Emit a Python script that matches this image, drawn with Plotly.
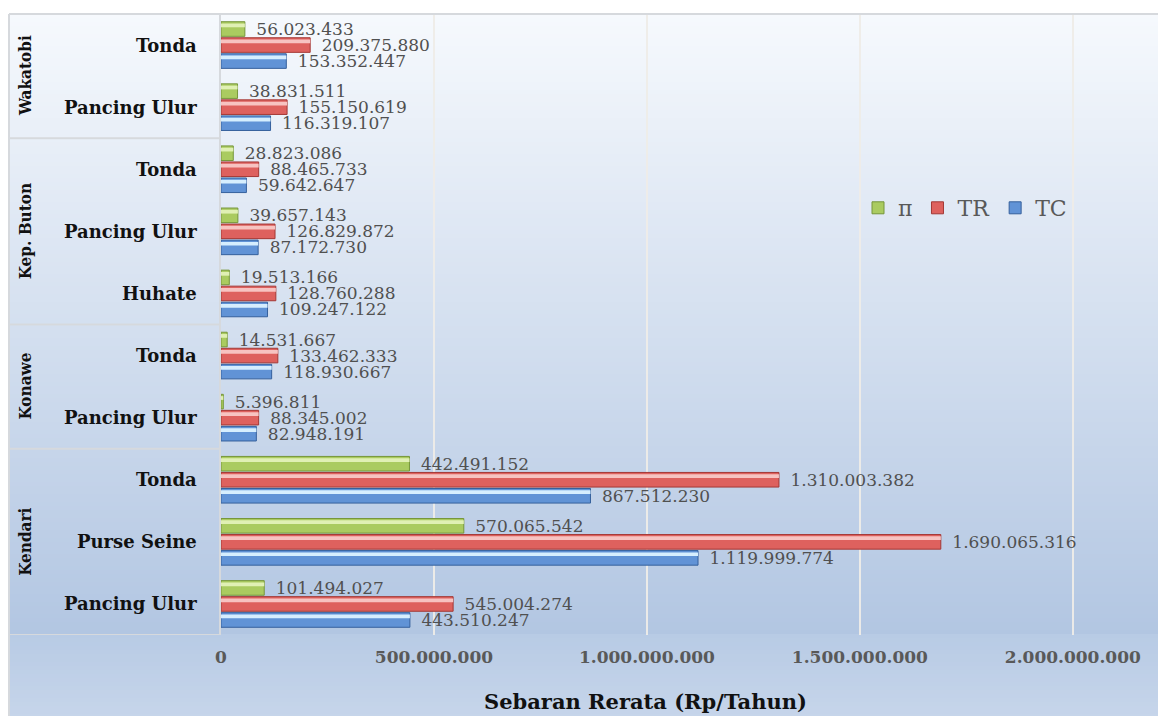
import plotly.graph_objects as go

# Average annual spread per region and fishing gear (Rp/Tahun), bottom-to-top order
regions = ["Kendari", "Kendari", "Kendari", "Konawe", "Konawe",
           "Kep. Buton", "Kep. Buton", "Kep. Buton", "Wakatobi", "Wakatobi"]
gears = ["Pancing Ulur", "Purse Seine", "Tonda", "Pancing Ulur", "Tonda",
         "Huhate", "Pancing Ulur", "Tonda", "Pancing Ulur", "Tonda"]
tc = [443510247, 1119999774, 867512230, 82948191, 118930667,
      109247122, 87172730, 59642647, 116319107, 153352447]
tr = [545004274, 1690065316, 1310003382, 88345002, 133462333,
      128760288, 126829872, 88465733, 155150619, 209375880]
pi = [101494027, 570065542, 442491152, 5396811, 14531667,
      19513166, 39657143, 28823086, 38831511, 56023433]
tick_vals = [0, 500000000, 1000000000, 1500000000, 2000000000]

keys = [f"{r} / {g}" for r, g in zip(regions, gears)]

W, H = 1158, 716
L, R, T, B = 221, 0, 14, 81
PW, PH = W - L - R, H - T - B


def px_x(x):
    return (x - L) / PW


def px_y(y):
    return (H - B - y) / PH


def fmt(v):
    return f"{v:,}".replace(",", ".")


SERIF = "DejaVu Serif"
BAR_W = 0.235
PITCH = 0.258

series = [
    # name, values, fill, outline, highlight, centre offset
    ("TC", tc, "#6193d6", "#35609c", "#d6eefe", -PITCH),
    ("TR", tr, "#de615e", "#a33835", "#f7c3c1", 0.0),
    ("π", pi, "#aacb60", "#76963a", "#e0f0b4", PITCH),
]

fig = go.Figure()
for name, vals, fill, edge, _, c in series:
    fig.add_trace(go.Bar(
        name=name, orientation="h", x=vals, y=keys,
        width=BAR_W, offset=c - BAR_W / 2,
        marker=dict(color=fill, line=dict(color=edge, width=1)),
        text=["\u2002" + fmt(v) for v in vals], textposition="outside",
        constraintext="none", cliponaxis=False,
        textfont=dict(family=SERIF, size=17, color="#505050"),
    ))
# glossy stripe along the upper part of each bar
for name, vals, _, _, hl, c in series:
    fig.add_trace(go.Bar(
        orientation="h", x=vals, y=keys, showlegend=False, hoverinfo="skip",
        width=0.06, offset=c + BAR_W * 0.12,
        marker=dict(color=hl, line=dict(width=0)),
    ))

shapes = []
# vertical gradient of the chart area
stops = [(T, (246, 249, 253)), (H - B, (178, 198, 226)),
         (H - B + 1, (184, 203, 229)), (H, (198, 213, 234))]


def col_at(y):
    for (y0, c0), (y1, c1) in zip(stops[:-1], stops[1:]):
        if y0 <= y <= y1:
            t = 0 if y1 == y0 else (y - y0) / (y1 - y0)
            return "rgb(%d,%d,%d)" % tuple(round(a + (b - a) * t) for a, b in zip(c0, c1))
    return "rgb(%d,%d,%d)" % stops[-1][1]


step = 4
y = T
while y < H:
    y2 = min(y + step, H)
    shapes.append(dict(type="rect", xref="paper", yref="paper", layer="below",
                       x0=px_x(9), x1=1, y0=px_y(y2), y1=px_y(y),
                       fillcolor=col_at((y + y2) / 2), line=dict(width=0)))
    y = y2

line_col = "#d6d9dd"
# chart-area border (top and left)
shapes.append(dict(type="line", xref="paper", yref="paper", x0=px_x(9), x1=1,
                   y0=1, y1=1, line=dict(color=line_col, width=2)))
shapes.append(dict(type="line", xref="paper", yref="paper", x0=px_x(9), x1=px_x(9),
                   y0=px_y(H), y1=1, line=dict(color=line_col, width=2)))
# region separators in the category table
for yb in [-0.5, 2.5, 4.5, 7.5]:
    shapes.append(dict(type="line", xref="paper", yref="y", x0=px_x(9), x1=0,
                       y0=yb, y1=yb, line=dict(color=line_col, width=2)))

annotations = []
for i, g in enumerate(gears):
    annotations.append(dict(text=g, xref="paper", yref="y", x=px_x(199), y=i,
                            xanchor="right", yanchor="middle", showarrow=False,
                            font=dict(family=SERIF, size=18, color="#111111",
                                      weight="bold")))
for name, centre in [("Kendari", 1), ("Konawe", 3.5), ("Kep. Buton", 6), ("Wakatobi", 8.5)]:
    annotations.append(dict(text=name, xref="paper", yref="y", x=px_x(25), y=centre,
                            textangle=-90, xanchor="center", yanchor="middle",
                            showarrow=False,
                            font=dict(family="DejaVu Serif Condensed", size=17,
                                      color="#111111", weight="bold")))
annotations.append(dict(text="Sebaran Rerata (Rp/Tahun)", xref="paper", yref="paper",
                        x=px_x(645), y=px_y(701), xanchor="center", yanchor="middle",
                        showarrow=False,
                        font=dict(family=SERIF, size=21, color="#111111", weight="bold")))

fig.update_layout(
    width=W, height=H, margin=dict(l=L, r=R, t=T, b=B, pad=0),
    paper_bgcolor="white", plot_bgcolor="rgba(0,0,0,0)",
    barmode="overlay", separators=",.",
    shapes=shapes, annotations=annotations,
    legend=dict(orientation="h", x=px_x(858), y=px_y(208), xanchor="left",
                yanchor="middle", traceorder="reversed", bgcolor="rgba(0,0,0,0)",
                font=dict(family=SERIF, size=22, color="#595959"),
                itemwidth=30, tracegroupgap=0),
    xaxis=dict(range=[0, 2.2e9], tickvals=tick_vals, tickformat=",d",
               showgrid=True, gridcolor="rgba(238,236,232,0.95)", gridwidth=1.5,
               zeroline=False, showline=False, ticks="", ticklabelstandoff=10,
               tickfont=dict(family=SERIF, size=17, color="#595959", weight="bold")),
    yaxis=dict(type="category", categoryorder="array", categoryarray=keys,
               range=[-0.5, 9.5], showticklabels=False, showgrid=False,
               zeroline=False, showline=True, linecolor=line_col, linewidth=2),
)

fig.write_html("out.html")
